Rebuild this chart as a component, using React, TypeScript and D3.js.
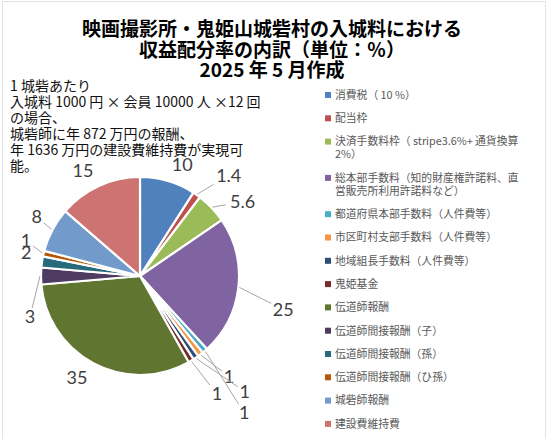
import { useEffect } from 'react';
import * as d3 from 'd3';

// Chart data
const categories = [
  '消費税（ 10 %）',
  '配当枠',
  '決済手数料枠（ stripe3.6%+ 通貨換算\n2%）',
  '総本部手数料（知的財産権許諾料、直\n営販売所利用許諾料など）',
  '都道府県本部手数料（人件費等）',
  '市区町村支部手数料（人件費等）',
  '地域組長手数料（人件費等）',
  '鬼姫基金',
  '伝道師報酬',
  '伝道師間接報酬（子）',
  '伝道師間接報酬（孫）',
  '伝道師間接報酬（ひ孫）',
  '城砦師報酬',
  '建設費維持費',
];
const values = [10, 1.4, 5.6, 25, 1, 1, 1, 1, 35, 3, 2, 1, 8, 15];

const titleLines = [
  '映画撮影所・鬼姫山城砦村の入城料における',
  '収益配分率の内訳（単位：％）',
  '2025 年 5 月作成',
];

const noteLines = [
  '1 城砦あたり',
  '入城料 1000 円 × 会員 10000 人 ×12 回',
  'の場合、',
  '城砦師に年 872 万円の報酬、',
  '年 1636 万円の建設費維持費が実現可',
  '能。',
];

// Office 2010 palette
const colors = [
  '#4f81bd', '#c0504d', '#9bbb59', '#8064a2', '#4bacc6', '#f79646',
  '#2c4d75', '#772c2a', '#5f7530', '#4d3b62', '#276a7c', '#b65708',
  '#729aca', '#cd7371',
];

// manual label drags (px) relative to the default label ring
const labelNudge: [number, number][] = [
  [9, 2], [21, -4], [17, 7], [26, 20], [27, 48], [17, 7], [38, 18],
  [16, 17], [-8, -3], [8, 41], [3, -7], [1, -9], [1, -4], [-8, 2],
];

const width = 548;
const height = 439;
const cx = 140;
const cy = 276;
const radius = 99;
const labelRadius = 118;

export default function App() {
  useEffect(() => {
    document.body.style.margin = '0';
  }, []);

  const pie = d3
    .pie<number>()
    .sort(null)
    .value((d) => d)
    .startAngle(0)
    .endAngle(2 * Math.PI);
  const arcs = pie(values);

  const arc = d3
    .arc<d3.PieArcDatum<number>>()
    .innerRadius(0)
    .outerRadius(radius);

  // legend rows: step per item plus extra for wrapped lines
  let legendY = 95;
  const legendRows = categories.map((c) => {
    const lines = c.split('\n');
    const row = { lines, y: legendY };
    legendY += 23.3 + (lines.length - 1) * 13;
    return row;
  });

  return (
    <svg width={width} height={height} style={{ display: 'block' }}>
      <rect x={0} y={0} width={width} height={height} fill="#fff" />
      <rect
        x={2.5}
        y={1.5}
        width={543}
        height={height}
        fill="none"
        stroke="#e3e3e3"
      />

      {/* title */}
      <g
        fontFamily="'Noto Sans CJK JP', sans-serif"
        fontWeight="bold"
        fontSize={19}
        textAnchor="middle"
        fill="#000"
      >
        {titleLines.map((t, i) => (
          <text key={i} x={272} y={36 + i * 20.5}>
            {t}
          </text>
        ))}
      </g>

      {/* note */}
      <g fontFamily="'Noto Sans CJK JP', sans-serif" fontSize={14} fill="#111">
        {noteLines.map((t, i) => (
          <text key={i} x={10} y={91 + i * 16}>
            {t}
          </text>
        ))}
      </g>

      {/* pie */}
      <g transform={`translate(${cx},${cy})`}>
        {arcs.map((a, i) => (
          <path
            key={i}
            d={arc(a) ?? ''}
            fill={colors[i]}
            stroke="#fff"
            strokeWidth={2.2}
            strokeLinejoin="round"
          />
        ))}

        {arcs.map((a, i) => {
          const mid = (a.startAngle + a.endAngle) / 2;
          const lx = Math.sin(mid) * labelRadius + labelNudge[i][0];
          const ly = -Math.cos(mid) * labelRadius + labelNudge[i][1];
          const label = String(a.data);
          const hw = label.length * 5 + 2;
          const hh = 9;
          // leader line from slice edge to label box
          const px = Math.sin(mid) * (radius + 1);
          const py = -Math.cos(mid) * (radius + 1);
          const dx = px - lx;
          const dy = py - ly;
          const s = Math.min(
            dx === 0 ? Infinity : hw / Math.abs(dx),
            dy === 0 ? Infinity : hh / Math.abs(dy)
          );
          const ex = lx + dx * s;
          const ey = ly + dy * s;
          const gap = Math.hypot(px - ex, py - ey);
          return (
            <g key={i}>
              {s < 1 && gap > 10 && (
                <line
                  x1={px}
                  y1={py}
                  x2={ex}
                  y2={ey}
                  stroke="#a6a6a6"
                  strokeWidth={1}
                />
              )}
              <text
                x={lx}
                y={ly}
                dy="0.35em"
                textAnchor="middle"
                fontFamily="Lato, 'Open Sans', sans-serif"
                fontSize={18}
                fill="#404040"
              >
                {label}
              </text>
            </g>
          );
        })}
      </g>

      {/* legend */}
      <g fontFamily="'Noto Sans CJK JP', sans-serif" fontSize={10.8} fill="#595959">
        {legendRows.map((r, i) => (
          <g key={i}>
            <rect x={325} y={r.y - 3} width={6} height={6} fill={colors[i]} />
            {r.lines.map((l, j) => (
              <text key={j} x={335} y={r.y + j * 13} dy="0.36em">
                {l}
              </text>
            ))}
          </g>
        ))}
      </g>
    </svg>
  );
}
